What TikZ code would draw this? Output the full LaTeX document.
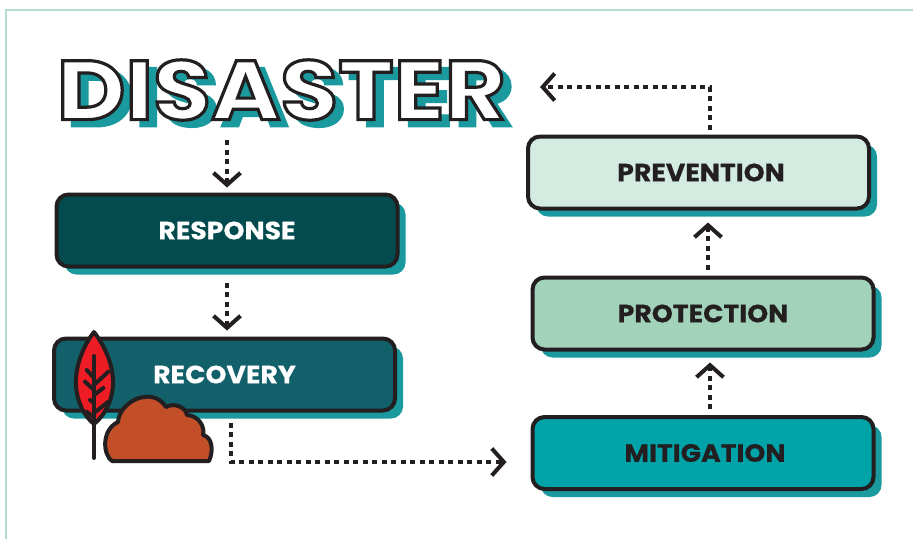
\documentclass[tikz,border=0pt]{standalone}
\usepackage{fontspec}
\usetikzlibrary{arrows.meta,shadows,calc}
\setmainfont{Poppins}
\newfontfamily\labelfont{Poppins}[UprightFont=* Bold,FakeStretch=1.07,FakeBold=0.4]
\newfontfamily\titlefill{Poppins}[UprightFont=* Bold,FakeStretch=1.12]
\newfontfamily\titleline{Poppins}[UprightFont=* Bold,FakeStretch=1.12,FakeBold=2]
\definecolor{ink}{HTML}{231F20}
\definecolor{shade}{HTML}{1A9A9E}
\definecolor{frame}{HTML}{B3DCCB}
\definecolor{cresp}{HTML}{034B4E}
\definecolor{creco}{HTML}{11606A}
\definecolor{cprev}{HTML}{D4EBE2}
\definecolor{cprot}{HTML}{A2D2BA}
\definecolor{cmiti}{HTML}{00A3A8}
\definecolor{leafred}{HTML}{EE1C25}
\definecolor{bush}{HTML}{C24F28}
\tikzset{
  stagebox/.style={draw=ink,line width=4pt,rounded corners=12pt,minimum width=341pt,minimum height=72pt,outer sep=0pt,inner sep=0pt,font=\labelfont\fontsize{25}{25}\selectfont,text=#1,drop shadow={shadow xshift=8pt,shadow yshift=-8pt,fill=shade,opacity=1}},
  conn/.style={draw=ink,line width=4pt,dash pattern=on 5pt off 4.5pt,-{Straight Barb[length=12pt,width=27pt,line width=4pt]}},
  plant/.style={draw=ink,line width=4pt,line cap=round,line join=round},
  titletext/.style={inner sep=0pt,outer sep=0pt,font=\fontsize{84}{84}\selectfont}
}
\begin{document}
\begin{tikzpicture}[x=1pt,y=-1pt]
\useasboundingbox (0,0) rectangle (913,539);
\fill[white] (0,0) rectangle (913,539);
\draw[frame,line width=1.5pt] (913,10) -- (6,10) -- (6,539);
% title
\node[titletext,text=shade] (titleshade) at (290.5,97) {\titleline DISASTER};
\node[titletext,text=white] (title) at (281.5,90) {\titlefill\special{pdf:code 0.137 0.122 0.125 RG 3.2 w 2 Tr}DISASTER\special{pdf:code 0 Tr}};
% boxes
\node[stagebox=white,fill=cresp] (response) at (227,230.5) {\raisebox{-2pt}{RESPONSE}};
\node[stagebox=white,fill=creco] (recovery) at (224.5,374.5) {\raisebox{-1.5pt}{RECOVERY}};
\node[stagebox=ink,fill=cprev] (prevention) at (698.5,172.5) {\raisebox{-2pt}{\hspace*{5pt}PREVENTION}};
\node[stagebox=ink,fill=cprot] (protection) at (703,313.5) {\raisebox{-0.5pt}{PROTECTION}};
\node[stagebox=ink,fill=cmiti] (mitigation) at (703,453) {\raisebox{-1.5pt}{\hspace*{4pt}MITIGATION}};
% connectors
\draw[conn] ([xshift=-54.5pt,yshift=-50pt]title.center) -- ([yshift=7pt]response.north);
\draw[conn] ([yshift=-16pt]response.south) -- ([xshift=2.5pt,yshift=8pt]recovery.north);
\draw[conn] ([xshift=6.5pt,yshift=-12pt]recovery.south) |- ([xshift=-26pt,yshift=-9pt]mitigation.west);
\draw[conn] ([xshift=7pt,yshift=8pt]mitigation.north) -- ([xshift=7pt,yshift=-13pt]protection.south);
\draw[conn] ([xshift=5pt,yshift=8pt]protection.north) -- ([xshift=9.5pt,yshift=-14pt]prevention.south);
\draw[conn] ([xshift=11.5pt,yshift=7pt]prevention.north) |- ([xshift=34pt,yshift=3pt]title.east);
% leaf
\draw[plant,fill=leafred] (94,332) .. controls (84,345) and (75,365) .. (76,385) .. controls (77,402) and (84,416) .. (94,424) .. controls (104,416) and (112,402) .. (113,385) .. controls (114,365) and (104,345) .. (94,332) -- cycle;
\draw[plant] (94,356) -- (94,458);
\draw[plant] (86.7,370) -- (94,378) (85,381.7) -- (94,390) (90,400) -- (94,403) (86.7,411.7) -- (93,416.7);
\draw[plant] (108.3,371.7) -- (94,385) (103.3,388) -- (94,395) (108.3,401.7) -- (94,413);
% bush
\draw[plant,fill=bush] (112,461) .. controls (103,455) and (101,430) .. (118,422) .. controls (119,402) and (152,385) .. (166,407) .. controls (175,402) and (186,408) .. (187,415) .. controls (200,416) and (205,428) .. (203,435) .. controls (212,437) and (214,450) .. (209,461) -- cycle;
\end{tikzpicture}
\end{document}
